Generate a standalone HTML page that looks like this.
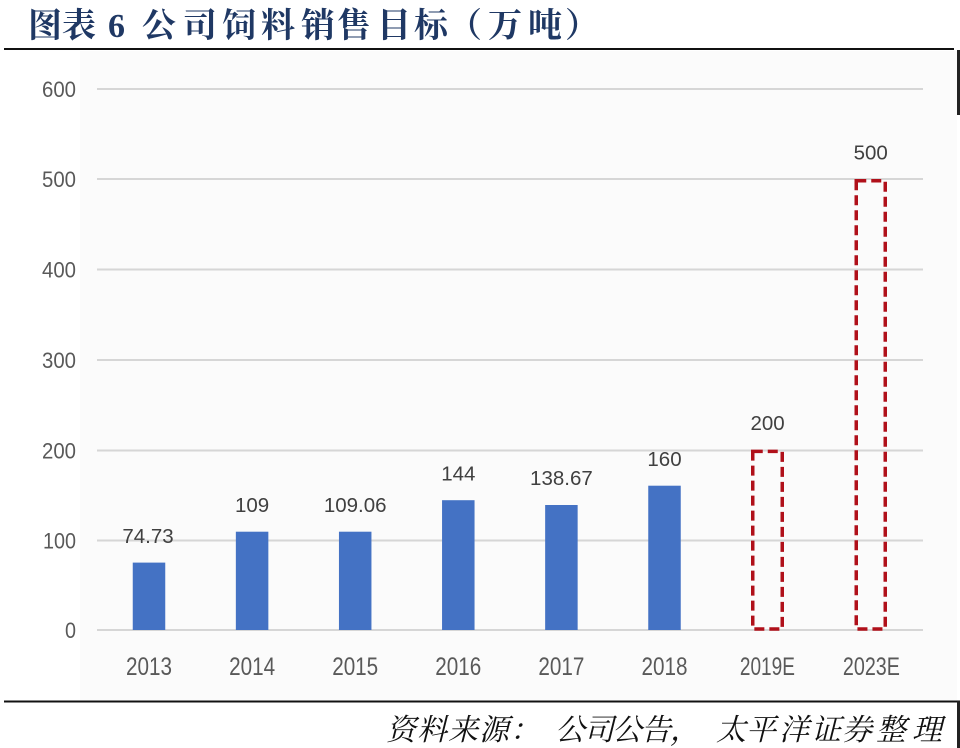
<!DOCTYPE html>
<html>
<head>
<meta charset="utf-8">
<style>
  html,body{margin:0;padding:0;background:#fff;}
  body{width:960px;height:748px;overflow:hidden;}
  svg{display:block;}
</style>
</head>
<body>
<svg width="960" height="748" viewBox="0 0 960 748" xmlns="http://www.w3.org/2000/svg">
  <rect x="0" y="0" width="960" height="748" fill="#ffffff"/>
  <rect x="80" y="51" width="877" height="649" fill="#fbfbfb"/>

  <!-- Title -->
  <text y="37" font-family="'Liberation Serif','Noto Serif CJK SC',serif" font-weight="bold" font-size="34" fill="#1f3864"
        x="28 62 108 142 183 222 261 301 337 377 414 448 488 528 565">图表6公司饲料销售目标（万吨）</text>
  <rect x="4" y="48" width="950" height="2" fill="#111"/>
  <rect x="957" y="50" width="3" height="65" fill="#222"/>

  <!-- Gridlines -->
  <g fill="#d6d6d6">
    <rect x="97" y="88" width="826" height="2"/>
    <rect x="97" y="178" width="826" height="2"/>
    <rect x="97" y="268.5" width="826" height="2"/>
    <rect x="97" y="359" width="826" height="2"/>
    <rect x="97" y="449.5" width="826" height="2"/>
    <rect x="97" y="539.5" width="826" height="2"/>
    <rect x="97" y="629" width="826" height="2"/>
  </g>

  <!-- Y labels -->
  <g font-family="'Liberation Sans',sans-serif" font-size="22" fill="#595959" text-anchor="end">
    <text x="76" y="97" textLength="34" lengthAdjust="spacingAndGlyphs">600</text>
    <text x="76" y="187" textLength="34" lengthAdjust="spacingAndGlyphs">500</text>
    <text x="76" y="277.5" textLength="34" lengthAdjust="spacingAndGlyphs">400</text>
    <text x="76" y="368" textLength="34" lengthAdjust="spacingAndGlyphs">300</text>
    <text x="76" y="458.5" textLength="34" lengthAdjust="spacingAndGlyphs">200</text>
    <text x="76" y="548.5" textLength="33" lengthAdjust="spacingAndGlyphs">100</text>
    <text x="76" y="638" textLength="11" lengthAdjust="spacingAndGlyphs">0</text>
  </g>

  <!-- Bars -->
  <g fill="#4472c4">
    <rect x="132.75" y="562.6" width="32.5" height="67.4"/>
    <rect x="235.85" y="531.7" width="32.5" height="98.3"/>
    <rect x="338.95" y="531.7" width="32.5" height="98.3"/>
    <rect x="442.05" y="500.2" width="32.5" height="129.8"/>
    <rect x="545.15" y="505" width="32.5" height="125"/>
    <rect x="648.25" y="485.7" width="32.5" height="144.3"/>
  </g>

  <!-- Dashed target boxes -->
  <g fill="none" stroke="#b0101a" stroke-width="3.5" stroke-dasharray="10 5">
    <rect x="752.75" y="451.4" width="29.5" height="177.6"/>
    <rect x="856.25" y="180.8" width="29" height="448.2"/>
  </g>

  <!-- Data labels -->
  <g font-family="'Liberation Sans',sans-serif" font-size="20.5" fill="#404040" text-anchor="middle">
    <text x="148" y="543">74.73</text>
    <text x="252.1" y="512">109</text>
    <text x="355.2" y="512">109.06</text>
    <text x="458.3" y="480.5">144</text>
    <text x="561.4" y="485">138.67</text>
    <text x="664.5" y="466">160</text>
    <text x="767.6" y="430">200</text>
    <text x="870.7" y="159.5">500</text>
  </g>

  <!-- X labels -->
  <g font-family="'Liberation Sans',sans-serif" font-size="25" fill="#595959" text-anchor="middle">
    <text x="149" y="675" textLength="46" lengthAdjust="spacingAndGlyphs">2013</text>
    <text x="252.1" y="675" textLength="46" lengthAdjust="spacingAndGlyphs">2014</text>
    <text x="355.2" y="675" textLength="46" lengthAdjust="spacingAndGlyphs">2015</text>
    <text x="458.3" y="675" textLength="46" lengthAdjust="spacingAndGlyphs">2016</text>
    <text x="561.4" y="675" textLength="46" lengthAdjust="spacingAndGlyphs">2017</text>
    <text x="664.5" y="675" textLength="46" lengthAdjust="spacingAndGlyphs">2018</text>
    <text x="767.4" y="675" textLength="55" lengthAdjust="spacingAndGlyphs">2019E</text>
    <text x="871.4" y="675" textLength="57" lengthAdjust="spacingAndGlyphs">2023E</text>
  </g>

  <!-- Bottom rule -->
  <rect x="4" y="700.5" width="956" height="2" fill="#111"/>
  <rect x="957" y="701" width="3" height="47" fill="#222"/>

  <!-- Source -->
  <text y="740" font-family="'Noto Serif CJK SC','WenQuanYi Zen Hei',serif" font-size="30" font-style="italic" fill="#111"
        x="386 417 448 479 510 555 584 612 641 670 716 746 779 811 842 876 912">资料来源：公司公告，太平洋证券整理</text>
</svg>
</body>
</html>
